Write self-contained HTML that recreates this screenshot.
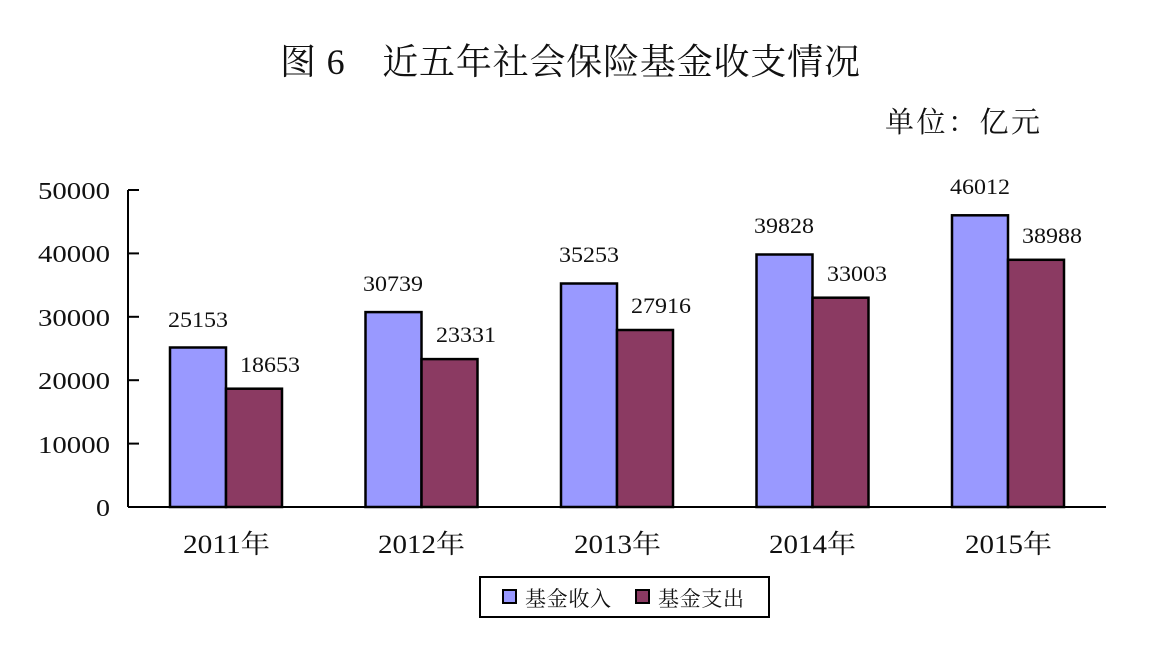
<!DOCTYPE html>
<html><head><meta charset="utf-8"><style>
body{margin:0;background:#fff;}
svg text{font-family:"Liberation Serif","Noto Serif CJK SC",serif;fill:#111;}
</style></head><body>
<svg width="1172" height="640" viewBox="0 0 1172 640" xmlns="http://www.w3.org/2000/svg">
<text x="280" y="74" font-size="36" textLength="580" lengthAdjust="spacing">图 6　近五年社会保险基金收支情况</text>
<text x="885" y="132" font-size="29" textLength="155" lengthAdjust="spacing">单位：亿元</text>
<g font-size="24">
<text x="38" y="199" textLength="72" lengthAdjust="spacingAndGlyphs">50000</text>
<text x="38" y="262" textLength="72" lengthAdjust="spacingAndGlyphs">40000</text>
<text x="38" y="326" textLength="72" lengthAdjust="spacingAndGlyphs">30000</text>
<text x="38" y="389" textLength="72" lengthAdjust="spacingAndGlyphs">20000</text>
<text x="38" y="453" textLength="72" lengthAdjust="spacingAndGlyphs">10000</text>
<text x="96" y="516" textLength="14" lengthAdjust="spacingAndGlyphs">0</text>
</g>
<g stroke="#000" stroke-width="2">
<line x1="128" y1="190" x2="128" y2="507"/>
<line x1="128" y1="507" x2="1106" y2="507"/>
<line x1="128" y1="190" x2="139" y2="190"/>
<line x1="128" y1="253.4" x2="139" y2="253.4"/>
<line x1="128" y1="316.8" x2="139" y2="316.8"/>
<line x1="128" y1="380.2" x2="139" y2="380.2"/>
<line x1="128" y1="443.6" x2="139" y2="443.6"/>
</g>
<g stroke="#000" stroke-width="2.5">
<rect x="170" y="347.5" width="56" height="159.5" fill="#9999FF"/>
<rect x="226" y="388.7" width="56" height="118.3" fill="#8B3A62"/>
<rect x="365.5" y="312.1" width="56" height="194.9" fill="#9999FF"/>
<rect x="421.5" y="359.1" width="56" height="147.9" fill="#8B3A62"/>
<rect x="561" y="283.5" width="56" height="223.5" fill="#9999FF"/>
<rect x="617" y="330" width="56" height="177" fill="#8B3A62"/>
<rect x="756.5" y="254.5" width="56" height="252.5" fill="#9999FF"/>
<rect x="812.5" y="297.7" width="56" height="209.3" fill="#8B3A62"/>
<rect x="952" y="215.3" width="56" height="291.7" fill="#9999FF"/>
<rect x="1008" y="259.8" width="56" height="247.2" fill="#8B3A62"/>
</g>
<g font-size="22">
<text x="168" y="327" textLength="60" lengthAdjust="spacingAndGlyphs">25153</text>
<text x="240" y="372" textLength="60" lengthAdjust="spacingAndGlyphs">18653</text>
<text x="363" y="291" textLength="60" lengthAdjust="spacingAndGlyphs">30739</text>
<text x="436" y="342" textLength="60" lengthAdjust="spacingAndGlyphs">23331</text>
<text x="559" y="262" textLength="60" lengthAdjust="spacingAndGlyphs">35253</text>
<text x="631" y="313" textLength="60" lengthAdjust="spacingAndGlyphs">27916</text>
<text x="754" y="233" textLength="60" lengthAdjust="spacingAndGlyphs">39828</text>
<text x="827" y="281" textLength="60" lengthAdjust="spacingAndGlyphs">33003</text>
<text x="950" y="194" textLength="60" lengthAdjust="spacingAndGlyphs">46012</text>
<text x="1022" y="243" textLength="60" lengthAdjust="spacingAndGlyphs">38988</text>
</g>
<g font-size="26">
<text x="183" y="553" textLength="87" lengthAdjust="spacingAndGlyphs">2011年</text>
<text x="378" y="553" textLength="87" lengthAdjust="spacingAndGlyphs">2012年</text>
<text x="574" y="553" textLength="87" lengthAdjust="spacingAndGlyphs">2013年</text>
<text x="769" y="553" textLength="87" lengthAdjust="spacingAndGlyphs">2014年</text>
<text x="965" y="553" textLength="87" lengthAdjust="spacingAndGlyphs">2015年</text>
</g>
<rect x="480" y="577" width="289" height="40" fill="#fff" stroke="#000" stroke-width="2"/>
<rect x="503" y="590" width="13" height="13" fill="#9999FF" stroke="#000" stroke-width="2"/>
<text x="525" y="606" font-size="21" textLength="86" lengthAdjust="spacing">基金收入</text>
<rect x="636" y="590" width="13" height="13" fill="#8B3A62" stroke="#000" stroke-width="2"/>
<text x="658" y="606" font-size="21" textLength="86" lengthAdjust="spacing">基金支出</text>
</svg>
</body></html>
